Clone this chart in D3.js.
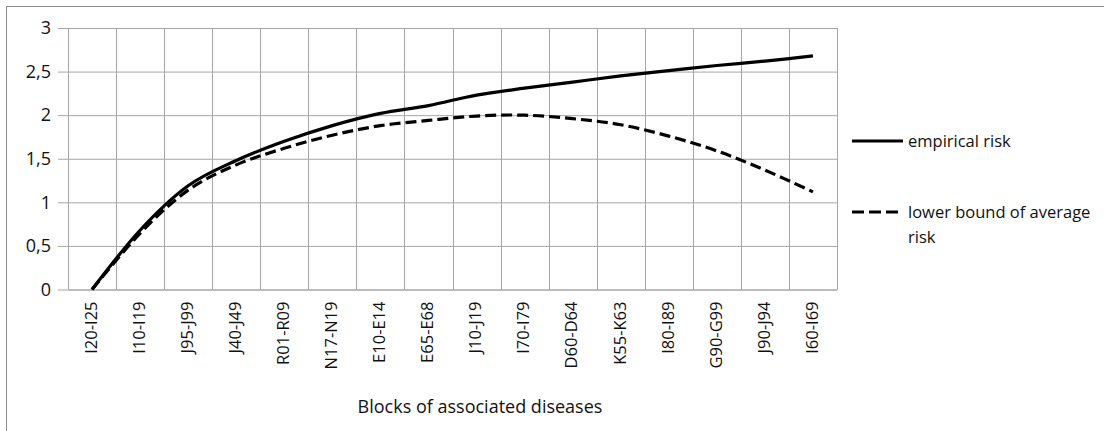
<!DOCTYPE html>
<html>
<head>
<meta charset="utf-8">
<script src="https://cdn.jsdelivr.net/npm/d3@7"></script>
<style>
  body { margin: 0; background: #fff; }
  text { font-family: "Open Sans", sans-serif; fill: #111; }
</style>
</head>
<body>
<div id="chart"></div>
<script>
const categories = ['I20-I25', 'I10-I19', 'J95-J99', 'J40-J49', 'R01-R09', 'N17-N19', 'E10-E14', 'E65-E68',
  'J10-J19', 'I70-I79', 'D60-D64', 'K55-K63', 'I80-I89', 'G90-G99', 'J90-J94', 'I60-I69'];
const empiricalRisk = [0, 0.68, 1.19, 1.48, 1.70, 1.88, 2.02, 2.11, 2.23, 2.31, 2.38, 2.45, 2.51, 2.57, 2.62, 2.68];
const lowerBoundRisk = [0, 0.645, 1.14, 1.43, 1.62, 1.77, 1.88, 1.94, 1.99, 2.0, 1.96, 1.89, 1.76, 1.59, 1.37, 1.12];
const yTicks = [0, 0.5, 1, 1.5, 2, 2.5, 3];
const seriesNames = ['empirical risk', 'lower bound of average risk'];

let width = 1104, height = 431;
let plot = {left: 68, right: 837, top: 28, bottom: 289.5};
let gridColor = '#a6a6a6';
let fontSize = '16.5px';

let svg = d3.select('#chart').append('svg')
  .attr('width', width)
  .attr('height', height);

// chart frame (cut off on right and bottom like the source)
svg.append('rect')
  .attr('x', 6.5).attr('y', 6.5)
  .attr('width', 1200).attr('height', 500)
  .attr('fill', 'none')
  .attr('stroke', '#8c8c8c');

let xScale = d3.scaleBand()
  .domain(categories)
  .range([plot.left, plot.right]);
let yScale = d3.scaleLinear()
  .domain([0, 3])
  .range([plot.bottom, plot.top]);

let fmt = v => String(v).replace('.', ',');

// horizontal grid + y axis
let yAxis = d3.axisLeft(yScale)
  .tickValues(yTicks)
  .tickSize(-(plot.right - plot.left))
  .tickSizeOuter(0)
  .tickFormat(fmt);
let yG = svg.append('g')
  .attr('transform', 'translate(' + plot.left + ',0)')
  .call(yAxis);
yG.select('.domain').remove();
yG.selectAll('.tick line')
  .attr('x1', -10)
  .attr('stroke', gridColor);
yG.selectAll('.tick text')
  .attr('x', -17)
  .style('font-size', '18px')
  .style('font-family', '"Open Sans", sans-serif')
  .attr('fill', '#111');

// vertical grid at band edges
let edges = categories.map(c => xScale(c)).concat([plot.right]);
svg.append('g').selectAll('line')
  .data(edges)
  .join('line')
  .attr('x1', d => Math.round(d) + 0.5)
  .attr('x2', d => Math.round(d) + 0.5)
  .attr('y1', plot.top)
  .attr('y2', plot.bottom)
  .attr('stroke', gridColor);

// x axis labels, rotated
let xAxis = d3.axisBottom(xScale).tickSize(0).tickPadding(0);
let xG = svg.append('g')
  .attr('transform', 'translate(0,' + plot.bottom + ')')
  .call(xAxis);
xG.select('.domain').attr('stroke', gridColor);
xG.selectAll('.tick text')
  .attr('transform', 'rotate(-90)')
  .attr('x', -12)
  .attr('y', -1)
  .attr('dy', '0.35em')
  .attr('text-anchor', 'end')
  .style('font-size', fontSize)
  .style('font-family', '"Open Sans", sans-serif')
  .attr('fill', '#111');

// lines
let line = d3.line()
  .x((d, i) => xScale(categories[i]) + xScale.bandwidth() / 2)
  .y(d => yScale(d))
  .curve(d3.curveCatmullRom.alpha(0));

svg.append('path')
  .datum(empiricalRisk)
  .attr('d', line)
  .attr('fill', 'none')
  .attr('stroke', '#000')
  .attr('stroke-width', 3.2);

svg.append('path')
  .datum(lowerBoundRisk)
  .attr('d', line)
  .attr('fill', 'none')
  .attr('stroke', '#000')
  .attr('stroke-width', 3.2)
  .attr('stroke-dasharray', '11,5');

// axis title
svg.append('text')
  .attr('x', 480)
  .attr('y', 413)
  .attr('text-anchor', 'middle')
  .style('font-size', '18px')
  .text('Blocks of associated diseases');

// legend
let legend = svg.append('g');
legend.append('line')
  .attr('x1', 852).attr('x2', 903)
  .attr('y1', 141).attr('y2', 141)
  .attr('stroke', '#000').attr('stroke-width', 3.2);
legend.append('text')
  .attr('x', 908).attr('y', 141).attr('dy', '0.35em')
  .style('font-size', fontSize)
  .text(seriesNames[0]);
legend.append('line')
  .attr('x1', 852).attr('x2', 898)
  .attr('y1', 212).attr('y2', 212)
  .attr('stroke', '#000').attr('stroke-width', 3.2)
  .attr('stroke-dasharray', '12,5');
let t2 = legend.append('text')
  .attr('x', 908).attr('y', 212).attr('dy', '0.35em')
  .style('font-size', fontSize);
t2.append('tspan').attr('x', 908).text('lower bound of average');
t2.append('tspan').attr('x', 908).attr('dy', 25).text('risk');
</script>
</body>
</html>
